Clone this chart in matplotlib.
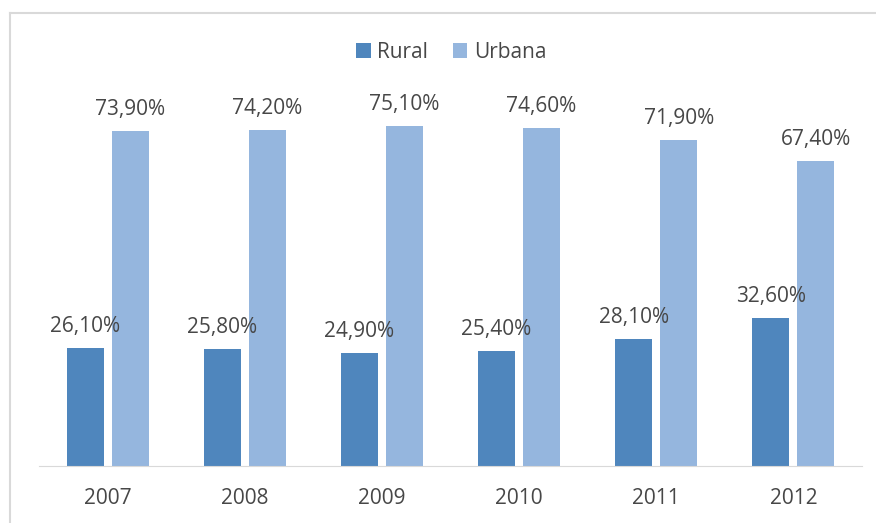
import matplotlib.pyplot as plt
import numpy as np
from matplotlib.lines import Line2D

years = ['2007', '2008', '2009', '2010', '2011', '2012']
rural = [26.1, 25.8, 24.9, 25.4, 28.1, 32.6]
urbana = [73.9, 74.2, 75.1, 74.6, 71.9, 67.4]

plt.rcParams['font.family'] = ['Open Sans', 'DejaVu Sans']
txt = '#474747'

fig = plt.figure(figsize=(8.76, 5.23), dpi=100)
ax = fig.add_axes([0.0445, 0.109, 0.9395, 0.776])

x = np.arange(len(years))
w = 0.27
off = 0.164
b1 = ax.bar(x - off, rural, w, color='#4f86bd', label='Rural')
b2 = ax.bar(x + off, urbana, w, color='#95b6de', label='Urbana')

for bars, vals in [(b1, rural), (b2, urbana)]:
    for b, v in zip(bars, vals):
        ax.annotate(f'{v:.2f}%'.replace('.', ','), (b.get_x() + b.get_width() / 2, v),
                    xytext=(0, 8), textcoords='offset points', ha='center', va='bottom',
                    fontsize=15, color=txt)

ax.set_xlim(-0.5, len(years) - 0.5)
ax.set_ylim(0, 89.6)
ax.set_xticks(x)
ax.set_xticklabels(years)
ax.tick_params(axis='x', length=0, pad=16, labelsize=15, labelcolor=txt)
ax.set_yticks([])
for s in ['top', 'right', 'left']:
    ax.spines[s].set_visible(False)
ax.spines['bottom'].set_color('#d9d9d9')

fig.legend(loc='center', bbox_to_anchor=(0.515, 0.9), ncol=2, frameon=False,
           fontsize=15, labelcolor=txt, handlelength=0.7, handleheight=0.7,
           handletextpad=0.3, columnspacing=1.2)

# outer border (left and top edges visible in the reference)
fig.add_artist(Line2D([9.5 / 876, 9.5 / 876], [0, 1 - 13 / 523], transform=fig.transFigure,
                      color='#d9d9d9', linewidth=1.5))
fig.add_artist(Line2D([9.5 / 876, 1], [1 - 13 / 523, 1 - 13 / 523], transform=fig.transFigure,
                      color='#d9d9d9', linewidth=1.5))

fig.savefig('out.png', dpi=100)
